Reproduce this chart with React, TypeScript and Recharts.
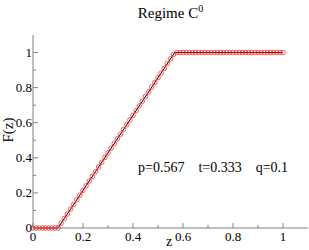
import { ComposedChart, Line, Scatter, XAxis, YAxis } from 'recharts';

const zSamples = [
  0, 0.0125, 0.025, 0.0375, 0.05, 0.0625, 0.075, 0.0875, 0.1, 0.1125,
  0.125, 0.1375, 0.15, 0.1625, 0.175, 0.1875, 0.2, 0.2125, 0.225, 0.2375,
  0.25, 0.2625, 0.275, 0.2875, 0.3, 0.3125, 0.325, 0.3375, 0.35, 0.3625,
  0.375, 0.3875, 0.4, 0.4125, 0.425, 0.4375, 0.45, 0.4625, 0.475, 0.4875,
  0.5, 0.5125, 0.525, 0.5375, 0.55, 0.5625, 0.575, 0.5875, 0.6, 0.6125,
  0.625, 0.6375, 0.65, 0.6625, 0.675, 0.6875, 0.7, 0.7125, 0.725, 0.7375,
  0.75, 0.7625, 0.775, 0.7875, 0.8, 0.8125, 0.825, 0.8375, 0.85, 0.8625,
  0.875, 0.8875, 0.9, 0.9125, 0.925, 0.9375, 0.95, 0.9625, 0.975, 0.9875, 1,
];
const fSamples = [
  0, 0, 0, 0, 0, 0, 0, 0, 0, 0.027,
  0.054, 0.080, 0.107, 0.134, 0.161, 0.187, 0.214, 0.241, 0.268, 0.294,
  0.321, 0.348, 0.375, 0.402, 0.428, 0.455, 0.482, 0.509, 0.535, 0.562,
  0.589, 0.616, 0.642, 0.669, 0.696, 0.723, 0.750, 0.776, 0.803, 0.830,
  0.857, 0.883, 0.910, 0.937, 0.964, 0.990, 1, 1, 1, 1,
  1, 1, 1, 1, 1, 1, 1, 1, 1, 1,
  1, 1, 1, 1, 1, 1, 1, 1, 1, 1,
  1, 1, 1, 1, 1, 1, 1, 1, 1, 1, 1,
];

// theory curve: breakpoints
const zLine = [0, 0.1, 0.567, 1];
const fLine = [0, 0, 1, 1];

const tickValues = [0, 0.1, 0.2, 0.3, 0.4, 0.5, 0.6, 0.7, 0.8, 0.9, 1, 1.1];
const majorLabels: Record<string, string> = {
  '0': '0', '0.2': '0.2', '0.4': '0.4', '0.6': '0.6', '0.8': '0.8', '1': '1',
};

const samples = zSamples.map((z, i) => ({ z, f: fSamples[i] }));
const curve = zLine.map((z, i) => ({ z, f: fLine[i] }));

const FONT = "'Liberation Serif', serif";
const AXIS = '#808080';

function tickOf(side: 'bottom' | 'top' | 'left' | 'right') {
  return (props: any) => {
    const { x, y, payload } = props;
    const v = Math.round(payload.value * 10) / 10;
    if (v > 1.05) return <g />;
    const label = majorLabels[String(v)];
    const len = label !== undefined ? 5 : 3;
    let line;
    if (side === 'bottom') line = <line x1={x} x2={x} y1={y} y2={y - len} stroke={AXIS} />;
    else if (side === 'top') line = <line x1={x} x2={x} y1={y} y2={y + len} stroke={AXIS} />;
    else if (side === 'left') line = <line x1={x} x2={x + len} y1={y} y2={y} stroke={AXIS} />;
    else line = <line x1={x} x2={x - len} y1={y} y2={y} stroke={AXIS} />;
    return (
      <g>
        {line}
        {label !== undefined && side === 'bottom' && (
          <text x={x} y={y + 13} textAnchor="middle" fontSize={13} style={{ fontFamily: FONT }} fill="#000">{label}</text>
        )}
        {label !== undefined && side === 'left' && (
          <text x={x - 1} y={y + 4} textAnchor="end" fontSize={13} style={{ fontFamily: FONT }} fill="#000">{label}</text>
        )}
      </g>
    );
  };
}

const Ring = (props: any) => (
  <circle cx={props.cx} cy={props.cy} r={2.3} fill="none" stroke="#ff3030" strokeWidth={0.8} />
);

export default function App() {
  return (
    <div style={{ position: 'absolute', left: 0, top: 0, width: 309, height: 250, background: '#fff', fontFamily: FONT }}>
      <ComposedChart width={309} height={250} margin={{ top: 35, right: 1, left: 0, bottom: 0 }}>
        <XAxis xAxisId="b" dataKey="z" type="number" domain={[0, 1.1]} ticks={tickValues}
          height={22} tickSize={0} tickMargin={0} tickLine={false} stroke={AXIS} tick={tickOf('bottom')} interval={0} />
        <XAxis xAxisId="t" orientation="top" dataKey="z" type="number" domain={[0, 1.1]} ticks={tickValues}
          height={0} tickSize={0} tickMargin={0} tickLine={false} stroke={AXIS} tick={tickOf('top')} interval={0} />
        <YAxis yAxisId="l" dataKey="f" type="number" domain={[0, 1.1]} ticks={tickValues}
          width={33} tickSize={0} tickMargin={0} tickLine={false} stroke={AXIS} tick={tickOf('left')} interval={0} />
        <YAxis yAxisId="r" orientation="right" dataKey="f" type="number" domain={[0, 1.1]} ticks={tickValues}
          width={0} tickSize={0} tickMargin={0} tickLine={false} stroke={AXIS} tick={tickOf('right')} interval={0} />
        <Scatter data={samples} xAxisId="b" yAxisId="l" dataKey="f" shape={Ring} isAnimationActive={false} />
        <Line data={curve} xAxisId="b" yAxisId="l" dataKey="f" type="linear" stroke="#000" strokeWidth={1}
          dot={false} activeDot={false} isAnimationActive={false} />
      </ComposedChart>
      <div style={{ position: 'absolute', left: 0, width: 309, top: 3, textAlign: 'center', fontSize: 15, paddingLeft: 32, boxSizing: 'border-box' }}>
        Regime C<sup style={{ fontSize: 10 }}>0</sup>
      </div>
      <div style={{ position: 'absolute', left: 0, top: 122, width: 16, height: 16 }}>
        <div style={{ position: 'absolute', left: 8, top: 8, transform: 'translate(-50%, -50%) rotate(-90deg)', fontSize: 15, whiteSpace: 'nowrap' }}>F(z)</div>
      </div>
      <div style={{ position: 'absolute', left: 166, top: 234, fontSize: 14 }}>z</div>
      <div style={{ position: 'absolute', left: 138, top: 160, fontSize: 14, whiteSpace: 'pre' }}>{'p=0.567    t=0.333    q=0.1'}</div>
    </div>
  );
}
